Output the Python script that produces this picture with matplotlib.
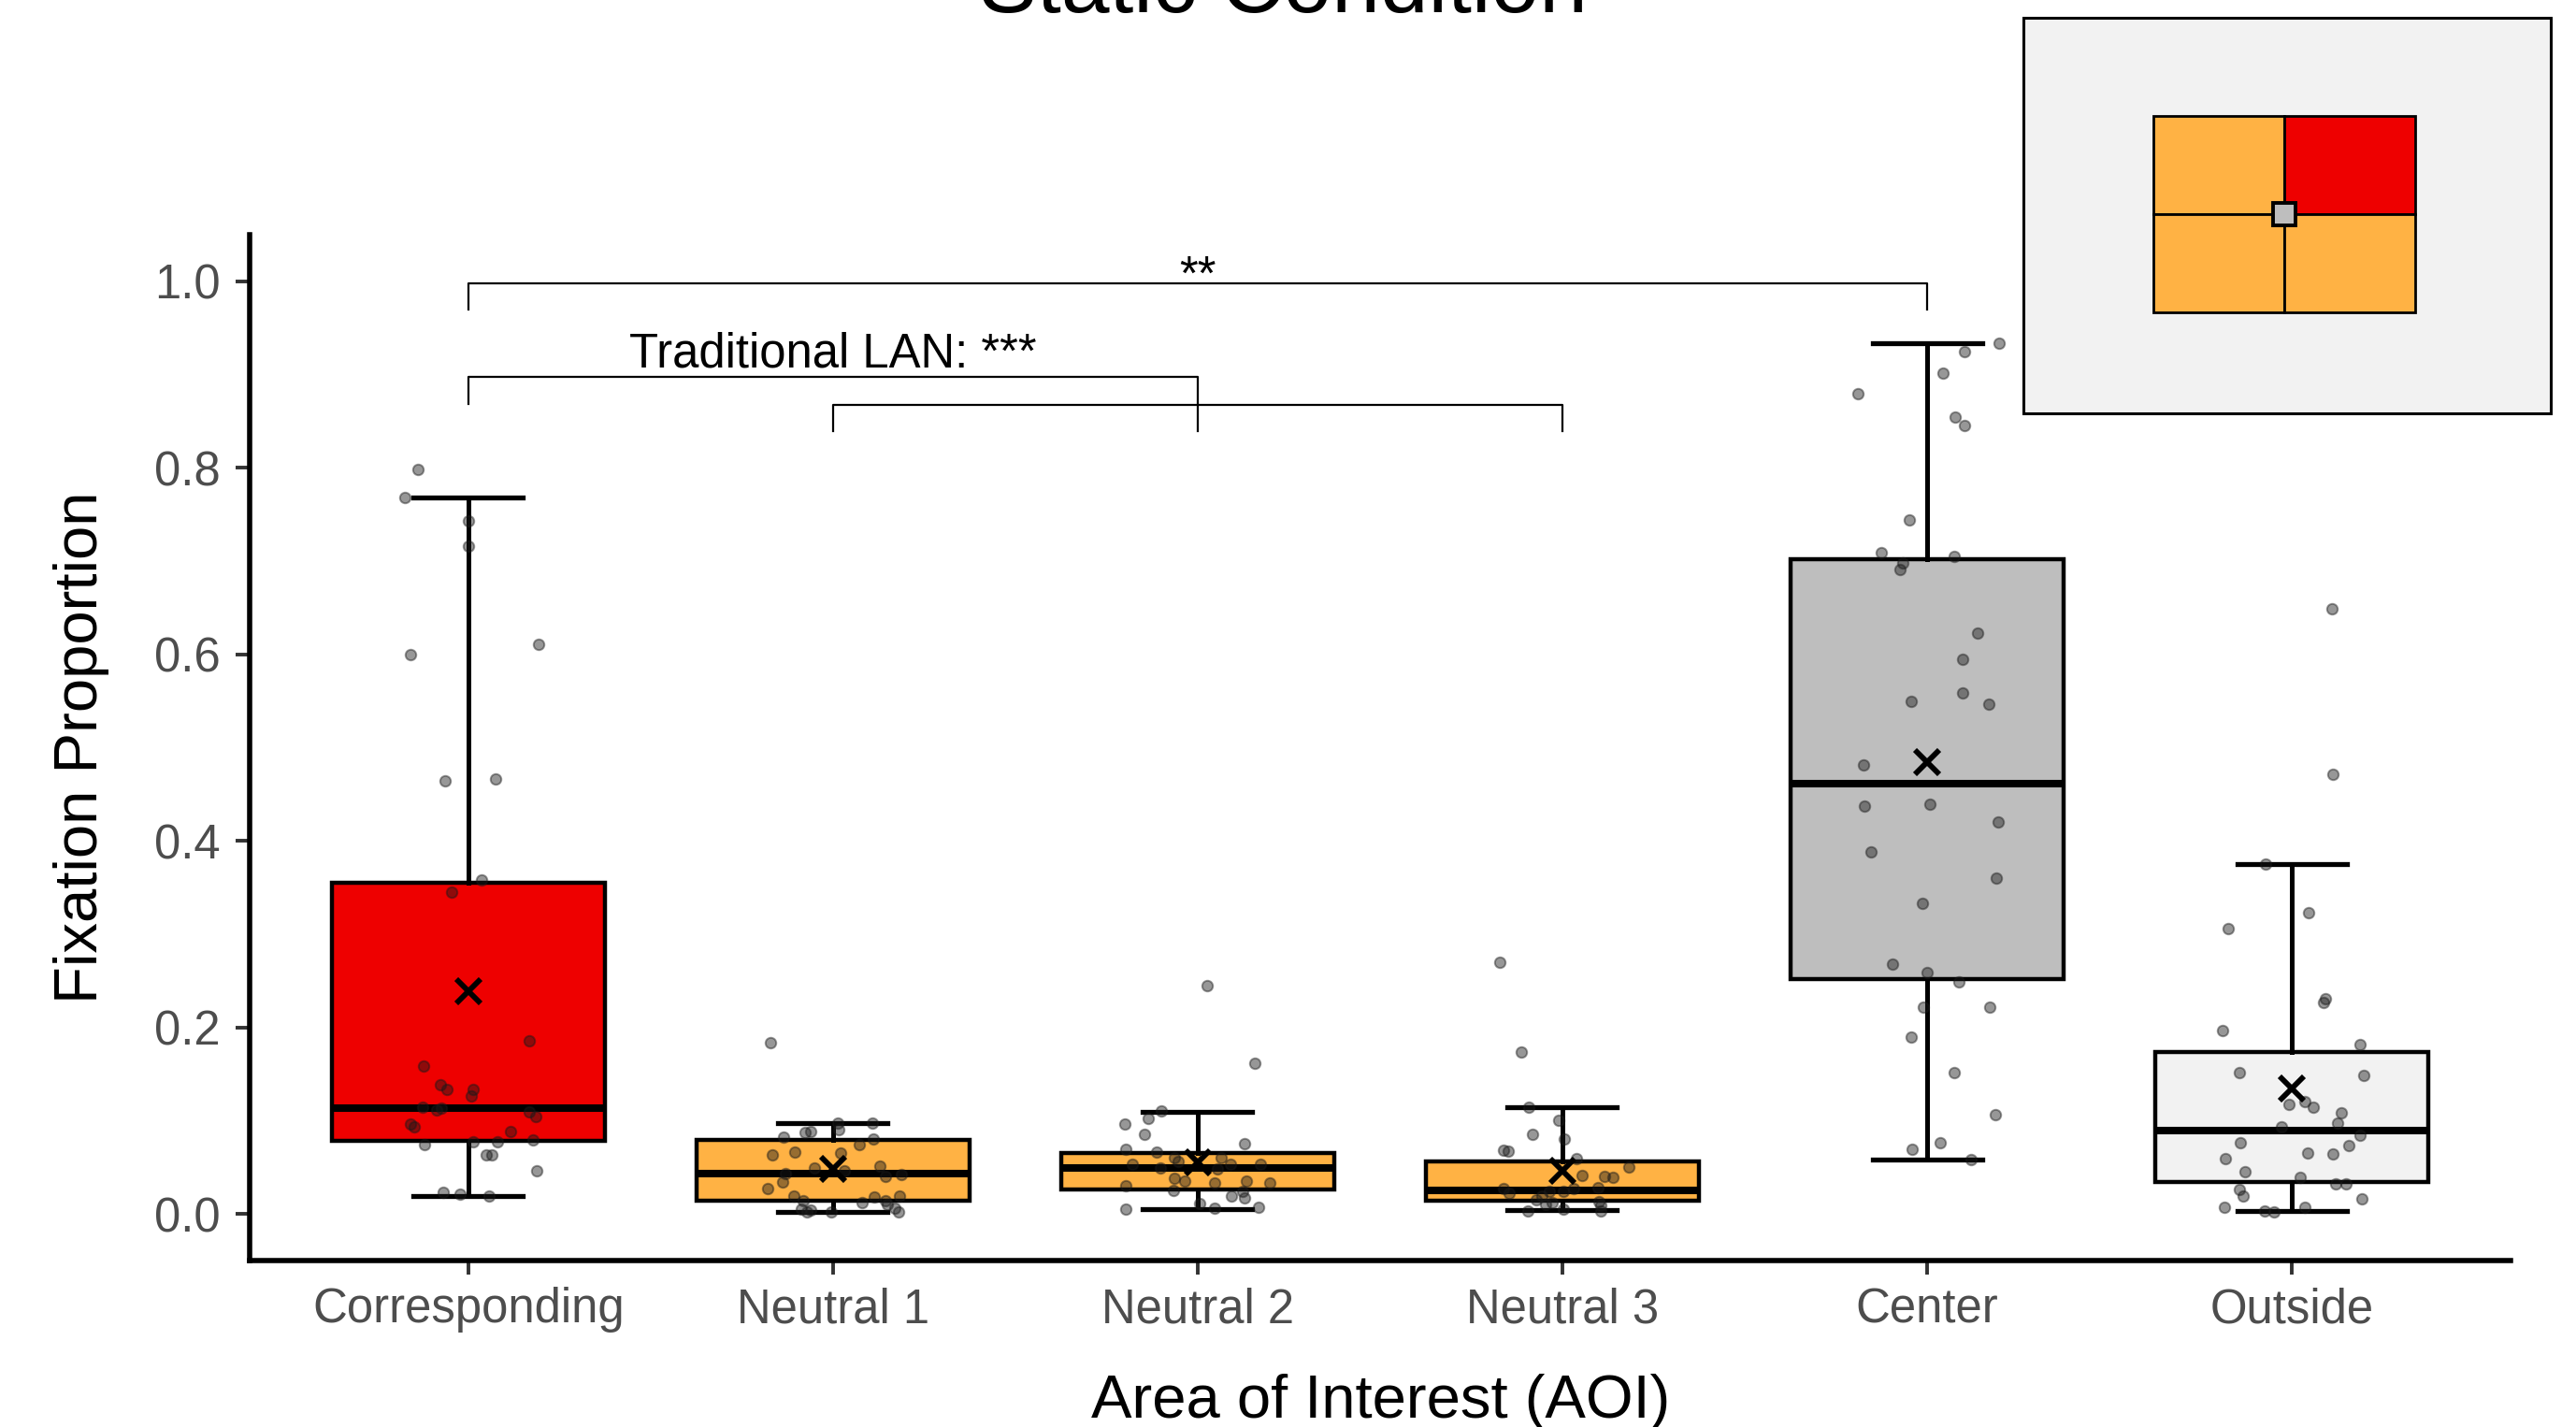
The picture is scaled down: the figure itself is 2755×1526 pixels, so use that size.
import matplotlib.pyplot as plt
from matplotlib.patches import Rectangle

plt.rcParams['font.family'] = ['Liberation Sans', 'DejaVu Sans']

# values
categories = ["Corresponding", "Neutral 1", "Neutral 2", "Neutral 3", "Center", "Outside"]
box_colors = ["#EE0000", "#FFB244", "#FFB244", "#FFB244", "#BEBEBE", "#F2F2F2"]

medians = [0.114, 0.043, 0.049, 0.025, 0.461, 0.089]
q1 = [0.078, 0.014, 0.026, 0.014, 0.252, 0.034]
q3 = [0.355, 0.079, 0.065, 0.056, 0.702, 0.174]
whisker_lo = [0.019, 0.002, 0.005, 0.004, 0.058, 0.003]
whisker_hi = [0.768, 0.097, 0.109, 0.115, 0.934, 0.375]
means = [0.239, 0.048, 0.055, 0.046, 0.485, 0.135]

# individual participants (value, horizontal jitter in category units)
corr_y = [0.798, 0.768, 0.743, 0.716, 0.611, 0.600, 0.464, 0.466, 0.358, 0.345, 0.186, 0.159,
          0.139, 0.134, 0.134, 0.127, 0.115, 0.112, 0.114, 0.109, 0.104, 0.096, 0.093, 0.088,
          0.074, 0.077, 0.077, 0.079, 0.063, 0.063, 0.046, 0.023, 0.021, 0.019]
corr_dx = [-0.139, -0.175, 0.0, 0.0, 0.192, -0.159, -0.065, 0.075, 0.037, -0.047, 0.168, -0.123,
           -0.076, -0.059, 0.013, 0.009, -0.126, -0.088, -0.074, 0.168, 0.185, -0.159, -0.149, 0.115,
           -0.121, 0.012, 0.080, 0.177, 0.048, 0.064, 0.187, -0.068, -0.023, 0.057]
n1_y = [0.184, 0.097, 0.097, 0.090, 0.088, 0.087, 0.082, 0.080, 0.074, 0.066, 0.063, 0.065,
        0.049, 0.046, 0.051, 0.043, 0.042, 0.040, 0.034, 0.027, 0.019, 0.0185, 0.019, 0.0145,
        0.012, 0.0145, 0.0098, 0.005, 0.004, 0.002, 0.002, 0.006, 0.0025]
n1_dx = [-0.171, 0.014, 0.108, 0.016, -0.061, -0.078, -0.137, 0.110, 0.071, -0.106, -0.167, 0.020,
         -0.051, 0.031, 0.128, -0.131, 0.186, 0.143, -0.139, -0.179, -0.108, 0.114, 0.182, -0.082,
         0.080, 0.143, 0.149, -0.086, -0.061, -0.071, -0.004, 0.169, 0.179]
n2_y = [0.245, 0.162, 0.110, 0.102, 0.096, 0.085, 0.075, 0.069, 0.066, 0.060, 0.060, 0.056,
        0.053, 0.053, 0.053, 0.049, 0.048, 0.038, 0.035, 0.033, 0.035, 0.033, 0.030, 0.025,
        0.0245, 0.019, 0.0175, 0.011, 0.007, 0.006, 0.005]
n2_dx = [0.026, 0.157, -0.100, -0.137, -0.200, -0.147, 0.129, -0.198, -0.112, -0.065, 0.065, -0.053,
         -0.180, 0.090, 0.173, -0.102, 0.053, -0.065, -0.035, 0.045, 0.133, 0.198, -0.198, -0.067,
         0.122, 0.092, 0.128, 0.004, 0.167, 0.047, -0.198]
n3_y = [0.270, 0.174, 0.115, 0.100, 0.085, 0.080, 0.068, 0.067, 0.059, 0.050, 0.041, 0.040,
        0.039, 0.028, 0.027, 0.022, 0.027, 0.024, 0.019, 0.024, 0.015, 0.0125, 0.013, 0.009,
        0.010, 0.003, 0.005, 0.003]
n3_dx = [-0.171, -0.112, -0.092, -0.010, -0.082, 0.004, -0.161, -0.149, 0.039, 0.182, 0.053, 0.116,
         0.139, 0.098, -0.161, -0.147, 0.031, -0.037, -0.057, 0.002, -0.071, -0.027, 0.100, 0.106,
         -0.047, -0.094, 0.002, 0.104]
center_y = [0.934, 0.925, 0.902, 0.880, 0.855, 0.845, 0.744, 0.709, 0.698, 0.691, 0.705, 0.623,
            0.595, 0.559, 0.550, 0.547, 0.481, 0.437, 0.439, 0.420, 0.388, 0.360, 0.333, 0.268,
            0.259, 0.249, 0.222, 0.222, 0.190, 0.152, 0.1065, 0.069, 0.076, 0.058]
center_dx = [0.197, 0.102, 0.044, -0.189, 0.077, 0.103, -0.048, -0.125, -0.066, -0.075, 0.074, 0.138,
             0.098, 0.098, -0.044, 0.168, -0.175, -0.173, 0.007, 0.195, -0.153, 0.189, -0.012, -0.094,
             0.0, 0.087, -0.009, 0.173, -0.043, 0.074, 0.188, -0.042, 0.036, 0.120]
out_y = [0.649, 0.471, 0.375, 0.323, 0.306, 0.231, 0.227, 0.197, 0.182, 0.152, 0.149, 0.118,
         0.121, 0.1145, 0.108, 0.097, 0.093, 0.084, 0.076, 0.073, 0.059, 0.065, 0.064, 0.045,
         0.039, 0.032, 0.032, 0.0265, 0.019, 0.0165, 0.007, 0.0036, 0.0026, 0.007]
out_dx = [0.110, 0.114, -0.072, 0.046, -0.175, 0.091, 0.086, -0.189, 0.187, -0.144, 0.197, -0.008,
          0.035, 0.058, 0.137, 0.126, -0.029, 0.187, -0.142, 0.157, -0.182, 0.043, 0.113, -0.128,
          0.024, 0.121, 0.149, -0.144, -0.133, 0.192, -0.185, -0.074, -0.050, 0.035]

point_y = [corr_y, n1_y, n2_y, n3_y, center_y, out_y]
point_dx = [corr_dx, n1_dx, n2_dx, n3_dx, center_dx, out_dx]

# significance brackets
br_x0 = [0, 0, 1]
br_x1 = [4, 2, 3]
br_y = [0.998, 0.898, 0.868]
br_lo_left = [0.970, 0.869, 0.839]
br_lo_right = [0.970, 0.839, 0.839]
br_labels = ["**", "Traditional LAN: ***", ""]
br_label_x = [2, 1, 2]
br_label_y = [0.9915, 0.908, 0.0]

# inset diagram: quadrant colours (top-left, top-right, bottom-left, bottom-right)
quad_colors = ["#FFB244", "#EE0000", "#FFB244", "#FFB244"]

fig = plt.figure(figsize=(13.775, 7.63), dpi=200)
ax = fig.add_axes([0.0969, 0.1166, 0.8777, 0.7189])

stats = []
for i in range(len(categories)):
    stats.append(dict(med=medians[i], q1=q1[i], q3=q3[i], whislo=whisker_lo[i],
                      whishi=whisker_hi[i], mean=means[i], fliers=[]))

bp = ax.bxp(stats, positions=range(len(categories)), widths=0.75, capwidths=0.3,
            patch_artist=True, showmeans=True, showfliers=False,
            boxprops=dict(linewidth=1.6, edgecolor='black'),
            medianprops=dict(color='black', linewidth=2.9, solid_capstyle='butt'),
            whiskerprops=dict(color='black', linewidth=1.8),
            capprops=dict(color='black', linewidth=1.9),
            meanprops=dict(marker='x', markeredgecolor='black', markersize=9.5, markeredgewidth=2.1))
for patch, c in zip(bp['boxes'], box_colors):
    patch.set_facecolor(c)
for m in bp['means']:
    m.set_zorder(5)

for i in range(len(categories)):
    xs = [i + d for d in point_dx[i]]
    ax.scatter(xs, point_y[i], s=17, facecolor=(0.1, 0.1, 0.1, 0.45),
               edgecolor=(0.1, 0.1, 0.1, 0.45), linewidths=0.7, zorder=3)

for i in range(len(br_x0)):
    ax.plot([br_x0[i], br_x0[i], br_x1[i], br_x1[i]],
            [br_lo_left[i], br_y[i], br_y[i], br_lo_right[i]],
            color='black', lw=0.8, clip_on=False, zorder=4)
    if br_labels[i]:
        ax.text(br_label_x[i], br_label_y[i], br_labels[i], ha='center', va='baseline',
                fontsize=18.3, color='black')

ax.set_xlim(-0.6, 5.6)
ax.set_ylim(-0.05, 1.05)
ax.set_xticks(range(len(categories)), categories)
yt = [0.0, 0.2, 0.4, 0.6, 0.8, 1.0]
ax.set_yticks(yt, ['%.1f' % v for v in yt])
ax.tick_params(length=5.4, width=1.4, color='#333333', labelcolor='#4D4D4D', labelsize=18.3)
ax.tick_params(axis='x', pad=4.7)
ax.tick_params(axis='y', pad=5.8)
for s in ['top', 'right']:
    ax.spines[s].set_visible(False)
for s in ['left', 'bottom']:
    ax.spines[s].set_linewidth(2.0)
    ax.spines[s].set_capstyle('projecting')

fig.text(0.498, 1 - 13 / 1526, "Static Condition", ha='center', va='baseline', fontsize=33.5)
fig.text(0.536, 1 - 1516 / 1526, "Area of Interest (AOI)", ha='center', va='baseline', fontsize=23.5)
fig.text(104 / 2755, 1 - 799.5 / 1526, "Fixation Proportion", ha='center', va='baseline',
         rotation=90, rotation_mode='anchor', fontsize=23.5)

# inset showing the AOI layout
ins = fig.add_axes([2164 / 2755, 1 - 442 / 1526, 564 / 2755, 423 / 1526], zorder=10)
ins.set_xlim(0, 564)
ins.set_ylim(0, 423)
ins.axis('off')
ins.add_patch(Rectangle((0, 0), 564, 423, facecolor='#F2F2F2', edgecolor='black',
                        lw=1.1, clip_on=False))
qw, qh = 140, 105
cx, cy = 279, 213.5
k = 0
for row in [1, 0]:
    for col in [0, 1]:
        ins.add_patch(Rectangle((cx - qw + col * qw, cy - qh + row * qh), qw, qh,
                                facecolor=quad_colors[k], edgecolor='black', lw=1.0))
        k += 1
ins.add_patch(Rectangle((cx - 12, cy - 12), 24, 24, facecolor='#BEBEBE',
                        edgecolor='black', lw=1.4, zorder=3))

fig.savefig('out.png', dpi=200)
